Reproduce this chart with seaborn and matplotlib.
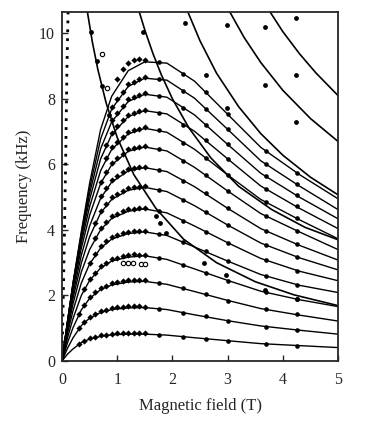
import numpy as np
import pandas as pd
import matplotlib.pyplot as plt
import seaborn as sns

# ---- model curves ----
# dome-shaped levels, sampled on a common field grid
B_GRID = [0, 0.1, 0.2, 0.35, 0.5, 0.7, 0.9, 1.2, 1.5, 1.9, 2.4, 3.0, 3.6, 4.3, 5.0]
DOME_F = [
    [0, .21, .37, .56, .67, .75, .80, .82, .82, .79, .71, .62, .53, .47, .41],
    [0, .39, .71, 1.08, 1.31, 1.48, 1.57, 1.62, 1.63, 1.57, 1.41, 1.23, 1.07, .94, .82],
    [0, .56, 1.02, 1.56, 1.91, 2.18, 2.32, 2.41, 2.43, 2.34, 2.12, 1.85, 1.60, 1.40, 1.22],
    [0, .71, 1.30, 2.00, 2.46, 2.84, 3.05, 3.17, 3.21, 3.10, 2.81, 2.46, 2.13, 1.87, 1.66],
    [0, .84, 1.54, 2.38, 2.96, 3.45, 3.72, 3.89, 3.94, 3.83, 3.48, 3.05, 2.64, 2.31, 2.09],
    [0, .95, 1.75, 2.72, 3.40, 4.01, 4.35, 4.57, 4.64, 4.52, 4.12, 3.61, 3.13, 2.74, 2.45],
    [0, 1.04, 1.92, 2.99, 3.79, 4.52, 4.93, 5.21, 5.30, 5.17, 4.74, 4.15, 3.60, 3.15, 2.78],
    [0, 1.10, 2.06, 3.23, 4.12, 4.97, 5.46, 5.80, 5.90, 5.78, 5.32, 4.66, 4.04, 3.53, 3.08],
    [0, 1.15, 2.18, 3.45, 4.45, 5.42, 5.99, 6.40, 6.53, 6.41, 5.91, 5.19, 4.50, 3.94, 3.40],
    [0, 1.19, 2.27, 3.61, 4.71, 5.81, 6.46, 6.93, 7.10, 6.98, 6.46, 5.68, 4.93, 4.31, 3.73],
    [0, 1.21, 2.33, 3.74, 4.93, 6.17, 6.91, 7.46, 7.64, 7.54, 7.01, 6.17, 5.34, 4.66, 4.04],
    [0, 1.21, 2.36, 3.82, 5.11, 6.48, 7.30, 7.92, 8.14, 8.05, 7.51, 6.61, 5.73, 5.00, 4.34],
    [0, 1.21, 2.38, 3.89, 5.27, 6.78, 7.69, 8.38, 8.63, 8.57, 8.02, 7.07, 6.11, 5.34, 4.62],
    [0, 1.19, 2.39, 3.95, 5.42, 7.07, 8.08, 8.86, 9.13, 9.09, 8.54, 7.53, 6.52, 5.69, 4.95],
]

# steep, falling branches
S1_B = [0.46, 0.55, 0.65, 0.8, 1.0, 1.3, 1.7, 2.2, 2.8, 3.5, 4.2, 5.0]
S1_F = [10.65, 9.73, 8.89, 7.87, 6.82, 5.69, 4.66, 3.72, 3.0, 2.42, 2.02, 1.69]
S2_B = [1.40, 1.5, 1.65, 1.8, 2.0, 2.3, 2.7, 3.2, 3.8, 4.4, 5.0]
S2_F = [10.65, 10.1, 9.37, 8.73, 8.0, 7.11, 6.19, 5.33, 4.62, 4.08, 3.7]
S3_B = [2.28, 2.5, 2.8, 3.2, 3.6, 4.0, 4.5, 5.0]
S3_F = [10.65, 9.77, 8.78, 7.76, 6.94, 6.28, 5.61, 5.07]
S4_B = [3.04, 3.3, 3.6, 4.0, 4.5, 5.0]
S4_F = [10.65, 9.87, 9.11, 8.26, 7.4, 6.7]
S5_B = [3.77, 4.0, 4.3, 4.6, 5.0]
S5_F = [10.65, 10.05, 9.38, 8.79, 8.1]

# dotted line hugging the frequency axis
DOT_B = [0, 0.035, 0.065, 0.09, 0.11]
DOT_F = [0, 3.0, 6.0, 9.0, 10.65]

# ---- measured points ----
N = np.nan
RISE_B = [0.3, 0.4, 0.5, 0.6, 0.7, 0.8, 0.9, 1.0, 1.1, 1.2, 1.3, 1.4, 1.5]
RISE_F = [
    [.53, .62, .70, .73, .78, .80, .83, .84, .85, .86, .85, .85, .84],
    [1.0, 1.19, 1.35, 1.43, 1.52, 1.57, 1.61, 1.64, 1.66, 1.68, 1.67, 1.67, 1.66],
    [1.42, 1.72, 1.95, 2.1, 2.23, 2.3, 2.37, 2.41, 2.44, 2.47, 2.48, 2.47, 2.46],
    [N, 2.2, 2.5, 2.7, 2.89, 3.0, 3.1, 3.15, 3.2, 3.24, 3.26, 3.25, 3.24],
    [N, N, 3.0, 3.26, 3.5, 3.65, 3.78, 3.85, 3.9, 3.95, 3.97, 3.97, 3.96],
    [N, N, N, 3.76, 4.06, 4.24, 4.41, 4.49, 4.57, 4.63, 4.65, 4.67, 4.67],
    [N, N, N, 4.21, 4.57, 4.79, 5.0, 5.09, 5.19, 5.27, 5.3, 5.32, 5.33],
    [N, N, N, N, 5.02, 5.28, 5.52, 5.64, 5.76, 5.86, 5.89, 5.92, 5.93],
    [N, N, N, N, 5.47, 5.77, 6.05, 6.2, 6.33, 6.46, 6.5, 6.54, 6.56],
    [N, N, N, N, N, 6.2, 6.52, 6.69, 6.84, 6.99, 7.05, 7.09, 7.13],
    [N, N, N, N, N, 6.6, 6.97, 7.16, 7.35, 7.52, 7.58, 7.63, 7.67],
    [N, N, N, N, N, N, 7.36, 7.58, 7.78, 7.98, 8.05, 8.12, 8.17],
    [N, N, N, N, N, N, 7.75, 7.99, 8.22, 8.44, 8.52, 8.6, 8.67],
    [N, N, N, N, N, N, N, 8.6, 8.9, 9.1, 9.2, 9.22, 9.2],
]
TAIL_B = [1.75, 2.2, 2.6, 3.0, 3.7, 4.25]
TAIL_F = [
    [.80, .74, .67, .60, .53, .47],
    [1.60, 1.47, 1.36, 1.21, 1.05, .96],
    [2.38, 2.22, 2.05, 1.84, 1.58, 1.42],
    [3.15, 2.93, 2.70, 2.45, 2.10, 1.88],
    [3.88, 3.62, 3.35, 3.06, 2.60, 2.33],
    [4.57, 4.28, 3.93, 3.60, 3.08, 2.76],
    [5.23, 4.90, 4.55, 4.14, 3.55, 3.18],
    [5.83, 5.49, 5.12, 4.66, 3.97, 3.58],
    [6.46, 6.10, 5.68, 5.20, 4.42, 3.98],
    [7.04, 6.66, 6.20, 5.68, 4.85, 4.36],
    [7.58, 7.21, 6.74, 6.16, 5.25, 4.72],
    [8.08, 7.72, 7.21, 6.62, 5.64, 5.06],
    [8.60, 8.24, 7.70, 7.07, 6.01, 5.40],
    [9.11, 8.76, 8.20, 7.53, 6.40, 5.75],
]
# points along the falling branches
EXTRA_B = [0.52, 0.63, 0.72, 0.85, 1.47, 2.22, 2.98, 3.67, 4.24, 2.61, 3.67, 4.24,
           4.24, 2.98, 1.70, 1.78, 1.89, 2.58, 2.97, 3.68, 4.25]
EXTRA_F = [10.04, 9.14, 8.38, 7.5, 10.04, 10.3, 10.25, 10.2, 10.48, 8.72, 8.41, 8.72,
           7.29, 7.73, 4.42, 4.2, 3.92, 3.0, 2.63, 2.18, 1.9]
# open symbols
OPEN_B = [0.72, 0.82, 1.10, 1.19, 1.28, 1.43, 1.50]
OPEN_F = [9.38, 8.34, 2.98, 3.0, 3.0, 2.97, 2.95]


def long_form(xs, rows):
    recs = [(i, b, f) for i, row in enumerate(rows) for b, f in zip(xs, row)]
    return pd.DataFrame(recs, columns=["curve", "B", "f"]).dropna()


dome_df = long_form(B_GRID, DOME_F)
steep_df = pd.concat([
    pd.DataFrame({"curve": k, "B": b, "f": f})
    for k, (b, f) in enumerate([(S1_B, S1_F), (S2_B, S2_F), (S3_B, S3_F),
                                (S4_B, S4_F), (S5_B, S5_F)])
])
rise_df = long_form(RISE_B, RISE_F)
tail_df = long_form(TAIL_B, TAIL_F)
extra_df = pd.DataFrame({"B": EXTRA_B, "f": EXTRA_F})
open_df = pd.DataFrame({"B": OPEN_B, "f": OPEN_F})
dot_df = pd.DataFrame({"B": DOT_B, "f": DOT_F})

sns.set_style("ticks")
plt.rcParams["font.family"] = ["Liberation Serif", "DejaVu Serif"]

fig = plt.figure(figsize=(3.7, 4.21), dpi=100)
ax = fig.add_axes([0.1676, 0.1425, 0.746, 0.829])

sns.lineplot(data=dome_df, x="B", y="f", units="curve", estimator=None, sort=False,
             color="black", lw=1.0, ax=ax)
sns.lineplot(data=steep_df, x="B", y="f", units="curve", estimator=None, sort=False,
             color="black", lw=1.2, ax=ax)
sns.lineplot(data=dot_df, x="B", y="f", estimator=None, sort=False, color="black",
             lw=2.0, linestyle=(0, (1, 2.2)), ax=ax)

sns.scatterplot(data=rise_df, x="B", y="f", marker="D", s=10, color="black",
                linewidth=0, ax=ax)
sns.scatterplot(data=tail_df, x="B", y="f", marker="o", s=11, color="black",
                linewidth=0, ax=ax)
sns.scatterplot(data=extra_df, x="B", y="f", marker="o", s=12, color="black",
                linewidth=0, ax=ax)
sns.scatterplot(data=open_df, x="B", y="f", marker="o", s=10, facecolor="white",
                edgecolor="black", linewidth=0.8, ax=ax)

ax.set_xlim(0, 5)
ax.set_ylim(0, 10.65)
ax.set_xticks([0, 1, 2, 3, 4, 5])
ax.set_yticks([0, 2, 4, 6, 8, 10])
ax.tick_params(direction="in", length=4, width=1, labelsize=11.5)
ax.tick_params(axis="x", pad=8)
ax.tick_params(axis="y", pad=5)
for sp in ax.spines.values():
    sp.set_linewidth(1.3)
ax.set_xlabel("Magnetic field (T)", fontsize=12, labelpad=7)
ax.set_ylabel("Frequency (kHz)", fontsize=12, labelpad=5)

plt.savefig("out.png", dpi=100)
plt.close()
